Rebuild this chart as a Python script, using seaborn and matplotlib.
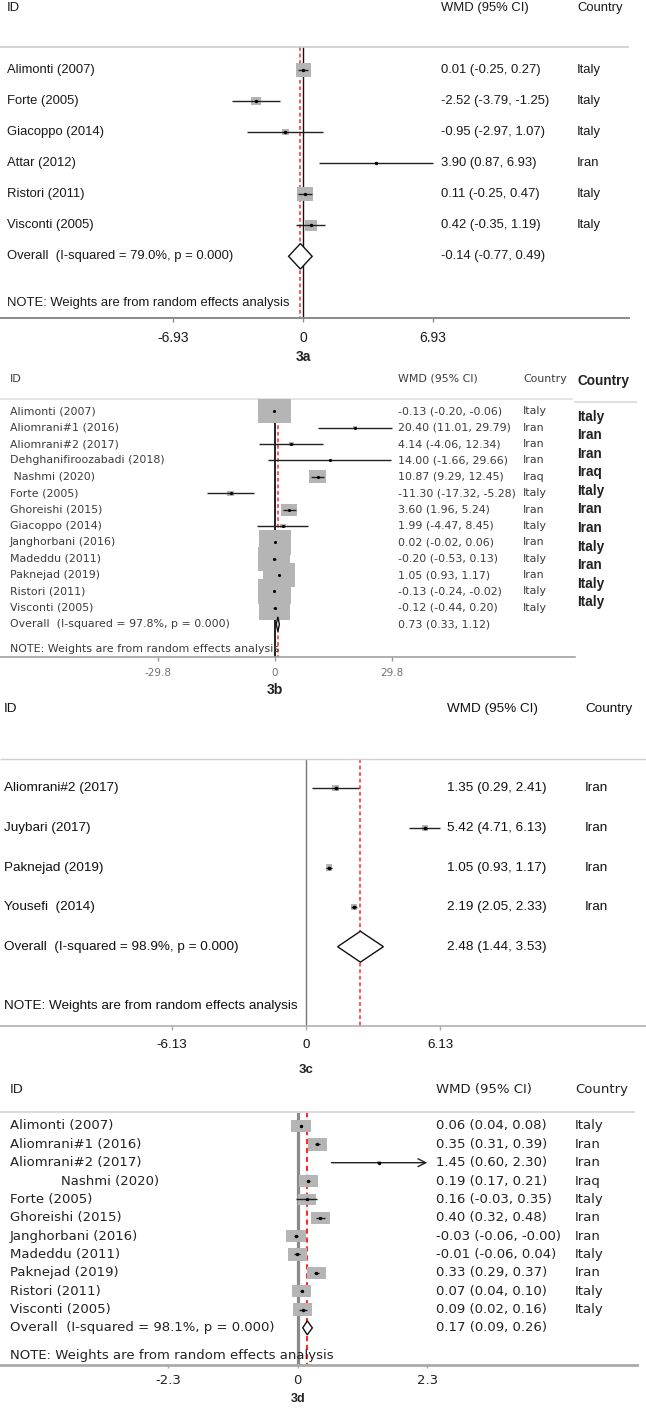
import numpy as np
import pandas as pd
import seaborn as sns
import matplotlib.pyplot as plt
from matplotlib.transforms import blended_transform_factory

# 3a
a_study = ["Alimonti (2007)", "Forte (2005)", "Giacoppo (2014)", "Attar (2012)",
           "Ristori (2011)", "Visconti (2005)"]
a_wmd = [0.01, -2.52, -0.95, 3.90, 0.11, 0.42]
a_low = [-0.25, -3.79, -2.97, 0.87, -0.25, -0.35]
a_high = [0.27, -1.25, 1.07, 6.93, 0.47, 1.19]
a_country = ["Italy", "Italy", "Italy", "Iran", "Italy", "Italy"]
a_weight = [30.0, 12.0, 6.0, 1.0, 33.0, 18.0]
a_overall = [-0.14, -0.77, 0.49]
a_i2 = 79.0
a_ticks = [-6.93, 0, 6.93]

# 3b
b_study = ["Alimonti (2007)", "Aliomrani#1 (2016)", "Aliomrani#2 (2017)",
           "Dehghanifiroozabadi (2018)", " Nashmi (2020)", "Forte (2005)",
           "Ghoreishi (2015)", "Giacoppo (2014)", "Janghorbani (2016)",
           "Madeddu (2011)", "Paknejad (2019)", "Ristori (2011)", "Visconti (2005)"]
b_wmd = [-0.13, 20.40, 4.14, 14.00, 10.87, -11.30, 3.60, 1.99, 0.02, -0.20, 1.05, -0.13, -0.12]
b_low = [-0.20, 11.01, -4.06, -1.66, 9.29, -17.32, 1.96, -4.47, -0.02, -0.53, 0.93, -0.24, -0.44]
b_high = [-0.06, 29.79, 12.34, 29.66, 12.45, -5.28, 5.24, 8.45, 0.06, 0.13, 1.17, -0.02, 0.20]
b_country = ["Italy", "Iran", "Iran", "Iran", "Iraq", "Italy", "Iran", "Italy", "Iran",
             "Italy", "Iran", "Italy", "Italy"]
b_weight = [15.0, 0.2, 0.3, 0.1, 4.1, 0.6, 3.7, 0.5, 15.2, 14.6, 15.2, 15.1, 14.5]
b_overall = [0.73, 0.33, 1.12]
b_i2 = 97.8
b_ticks = [-29.8, 0, 29.8]
b_country_extra = ["Italy", "Iran", "Iran", "Iraq", "Italy", "Iran", "Iran", "Italy",
                   "Iran", "Italy", "Italy"]

# 3c
c_study = ["Aliomrani#2 (2017)", "Juybari (2017)", "Paknejad (2019)", "Yousefi  (2014)"]
c_wmd = [1.35, 5.42, 1.05, 2.19]
c_low = [0.29, 4.71, 0.93, 2.05]
c_high = [2.41, 6.13, 1.17, 2.33]
c_country = ["Iran", "Iran", "Iran", "Iran"]
c_weight = [24.0, 25.0, 26.0, 25.0]
c_overall = [2.48, 1.44, 3.53]
c_i2 = 98.9
c_ticks = [-6.13, 0, 6.13]

# 3d
d_study = ["Alimonti (2007)", "Aliomrani#1 (2016)", "Aliomrani#2 (2017)",
           "            Nashmi (2020)", "Forte (2005)", "Ghoreishi (2015)",
           "Janghorbani (2016)", "Madeddu (2011)", "Paknejad (2019)", "Ristori (2011)",
           "Visconti (2005)"]
d_wmd = [0.06, 0.35, 1.45, 0.19, 0.16, 0.40, -0.03, -0.01, 0.33, 0.07, 0.09]
d_low = [0.04, 0.31, 0.60, 0.17, -0.03, 0.32, -0.06, -0.06, 0.29, 0.04, 0.02]
d_high = [0.08, 0.39, 2.30, 0.21, 0.35, 0.48, -0.0, 0.04, 0.37, 0.10, 0.16]
d_country = ["Italy", "Iran", "Iran", "Iraq", "Italy", "Iran", "Iran", "Italy", "Iran",
             "Italy", "Italy"]
d_weight = [10.2, 10.0, 0.4, 10.3, 8.9, 9.6, 10.2, 10.0, 10.0, 10.3, 10.0]
d_overall = [0.17, 0.09, 0.26]
d_i2 = 98.1
d_ticks = [-2.3, 0, 2.3]
d_truncated = ["Aliomrani#2 (2017)"]

p_value = 0.000
note = "NOTE: Weights are from random effects analysis"

# Layout of each panel, in pixels of the 646x1411 picture.
W, H = 646, 1411
lay_a = dict(row0=70, dy=31.05, zero=303, ppu=18.7, x_id=7, x_wmd=441, x_cty=577,
             head_end=629, axis_end=629, font="Liberation Sans", fs=9.4, tfs=10,
             tc="#1a1a1a", lc="#1a1a1a", aspect=1.1, box=15.7, dot=6, dh=0.41,
             zero_c="#111111", zero_lw=1.0, red_lw=1.1, axis_c="#8a8a8a", axis_lw=1.4,
             head_c="#c8c8c8", head_lw=1.1, tl=3, pad=6.1, tag_off=39, tag_fs=10)
lay_b = dict(row0=411.3, dy=16.38, zero=275, ppu=3.92, x_id=10, x_wmd=398, x_cty=523,
             head_end=573, axis_end=575, font="DejaVu Sans", fs=7.9, tfs=7.5,
             tc="#3c3c3c", lc="#707070", aspect=1.33, box=32.5, dot=5, dh=0.45,
             zero_c="#222222", zero_lw=1.4, red_lw=1.1, axis_c="#999999", axis_lw=1.1,
             head_c="#dcdcdc", head_lw=1.1, tl=3, pad=4.9, tag_off=33, tag_fs=10)
lay_c = dict(row0=788.3, dy=39.6, zero=306, ppu=21.93, x_id=4, x_wmd=447, x_cty=585,
             head_end=646, axis_end=646, font="Liberation Sans", fs=9.7, tfs=9.6,
             tc="#111111", lc="#111111", aspect=1.0, box=6.5, dot=7, dh=0.39,
             zero_c="#777777", zero_lw=1.0, red_lw=1.1, axis_c="#aaaaaa", axis_lw=1.1,
             head_c="#cfcfcf", head_lw=1.0, tl=3, pad=6.3, tag_off=44, tag_fs=9.5)
lay_d = dict(row0=1126, dy=18.35, zero=297.7, ppu=56.35, x_id=10, x_wmd=436, x_cty=575,
             head_end=635, axis_end=637, font="DejaVu Sans", fs=9.5, tfs=9.5,
             tc="#222222", lc="#222222", aspect=1.55, box=19.5, dot=6, dh=0.38,
             zero_c="#8a8a8a", zero_lw=2.3, red_lw=1.5, axis_c="#aaaaaa", axis_lw=2.0,
             head_c="#dadada", head_lw=1.4, tl=2.5, pad=4.5, tag_off=34, tag_fs=9)


def draw_panel(fig, study, wmd, low, high, country, weight, overall, i2, ticks, tag, lay,
               truncated=()):
    n = len(study)
    dy = lay["dy"]
    axis_px = lay["row0"] + (n + 2) * dy
    top = -2.7
    ax = fig.add_axes([0, 1 - axis_px / H, 1, (n + 2 - top) * dy / H])
    ax.set_facecolor("none")

    def px(v):
        # picture column -> data value
        return (v - lay["zero"]) / lay["ppu"]

    df = pd.DataFrame({"study": study, "wmd": wmd, "low": low, "high": high,
                       "weight": weight, "row": np.arange(n)})

# Reference lines: no effect and overall estimate.
    ax.hlines(-0.75, px(0), px(lay["head_end"]), color=lay["head_c"], lw=lay["head_lw"])
    ax.vlines(0, -0.75, n + 2, color=lay["zero_c"], lw=lay["zero_lw"], zorder=1)
    ax.vlines(overall[0], -0.75, n + 2, color="#ff2a2a", lw=lay["red_lw"],
              linestyles=[(0, (2.5, 1.8))], zorder=1.5)

# Weight boxes, confidence intervals and point estimates.
    r = lay["aspect"]
    rect = [(-r, -1), (r, -1), (r, 1), (-r, 1), (-r, -1)]
    smax = (lay["box"] * 0.72) ** 2
    sns.scatterplot(data=df, x="wmd", y="row", size="weight", sizes=(0, smax),
                    size_norm=(0, max(weight)), marker=rect, color="#b5b5b5",
                    edgecolor="none", linewidth=0, legend=False, ax=ax, zorder=2)
    for _, row in df.iterrows():
        if row.study in truncated:
            ax.annotate("", xy=(row.high, row.row), xytext=(row.low, row.row),
                        arrowprops=dict(arrowstyle="->", color="#222222", lw=1.0,
                                        shrinkA=0, shrinkB=0, mutation_scale=14),
                        zorder=3)
        else:
            ax.hlines(row.row, row.low, row.high, color="#222222", lw=1.0, zorder=3)
    sns.scatterplot(data=df, x="wmd", y="row", color="black", s=lay["dot"], marker="o",
                    linewidth=0, legend=False, ax=ax, zorder=4)

# Overall diamond.
    est, lo, hi = overall
    h = lay["dh"]
    ax.fill([lo, est, hi, est, lo], [n, n - h, n, n + h, n], facecolor="white",
            edgecolor="#111111", lw=1.0, zorder=3)

# Table columns.
    tr = blended_transform_factory(ax.transAxes, ax.transData)
    kw = dict(transform=tr, va="center", ha="left", fontsize=lay["fs"],
              family=lay["font"], color=lay["tc"])
    ax.text(lay["x_id"] / W, -2, "ID", **kw)
    ax.text(lay["x_wmd"] / W, -2, "WMD (95% CI)", **kw)
    ax.text(lay["x_cty"] / W, -2, "Country", **kw)
    for i in range(n):
        ax.text(lay["x_id"] / W, i, study[i], **kw)
        ax.text(lay["x_wmd"] / W, i, f"{wmd[i]:.2f} ({low[i]:.2f}, {high[i]:.2f})", **kw)
        ax.text(lay["x_cty"] / W, i, country[i], **kw)
    ax.text(lay["x_id"] / W, n, f"Overall  (I-squared = {i2:.1f}%, p = {p_value:.3f})", **kw)
    ax.text(lay["x_wmd"] / W, n, f"{est:.2f} ({lo:.2f}, {hi:.2f})", **kw)
    ax.text(lay["x_id"] / W, n + 1.5, note, **kw)

# Configuring axis.
    ax.set_xlim(px(0), px(W))
    ax.set_ylim(n + 2, top)
    ax.set_xlabel("")
    ax.set_ylabel("")
    ax.set_yticks([])
    for s in ["top", "left", "right"]:
        ax.spines[s].set_visible(False)
    ax.spines["bottom"].set_bounds(px(0), px(lay["axis_end"]))
    ax.spines["bottom"].set_color(lay["axis_c"])
    ax.spines["bottom"].set_linewidth(lay["axis_lw"])
    ax.set_xticks(ticks, labels=[f"{t:g}" for t in ticks])
    ax.tick_params(axis="x", bottom=True, direction="out", length=lay["tl"], width=1.0,
                   color=lay["axis_c"], pad=lay["pad"], labelsize=lay["tfs"],
                   labelcolor=lay["lc"])
    for lb in ax.get_xticklabels():
        lb.set_family(lay["font"])
    ax.annotate(tag, xy=(0, n + 2), xycoords="data", xytext=(0, -lay["tag_off"] * 0.72),
                textcoords="offset points", ha="center", va="center",
                fontsize=lay["tag_fs"], fontweight="bold", family="Liberation Sans",
                color="#222222")
    return ax, px


# Setting plot properties.
sns.set_theme(style="white")
plt.rcParams["font.family"] = ["Liberation Sans", "DejaVu Sans"]
fig = plt.figure(figsize=(W / 100, H / 100), dpi=100)
fig.patch.set_facecolor("white")

draw_panel(fig, a_study, a_wmd, a_low, a_high, a_country, a_weight, a_overall, a_i2,
           a_ticks, "3a", lay_a)
ax_b, px_b = draw_panel(fig, b_study, b_wmd, b_low, b_high, b_country, b_weight, b_overall,
                        b_i2, b_ticks, "3b", lay_b)
draw_panel(fig, c_study, c_wmd, c_low, c_high, c_country, c_weight, c_overall, c_i2,
           c_ticks, "3c", lay_c)
draw_panel(fig, d_study, d_wmd, d_low, d_high, d_country, d_weight, d_overall, d_i2,
           d_ticks, "3d", lay_d, truncated=d_truncated)

# The extra country column pasted beside 3b.
tr_b = blended_transform_factory(ax_b.transAxes, ax_b.transData)
big = dict(transform=tr_b, va="center", ha="left", fontsize=9.8, fontweight="bold",
           family="Liberation Sans", color="#222222")
ax_b.text(577 / W, -1.85, "Country", **big)
ax_b.hlines(-0.57, px_b(574), px_b(637), color="#dcdcdc", lw=1.3)
for i, c in enumerate(b_country_extra):
    ax_b.text(577 / W, 0.33 + 1.133 * i, c, **big)

# Saving the image.
fig.savefig("out.png", dpi=100, facecolor="white")
